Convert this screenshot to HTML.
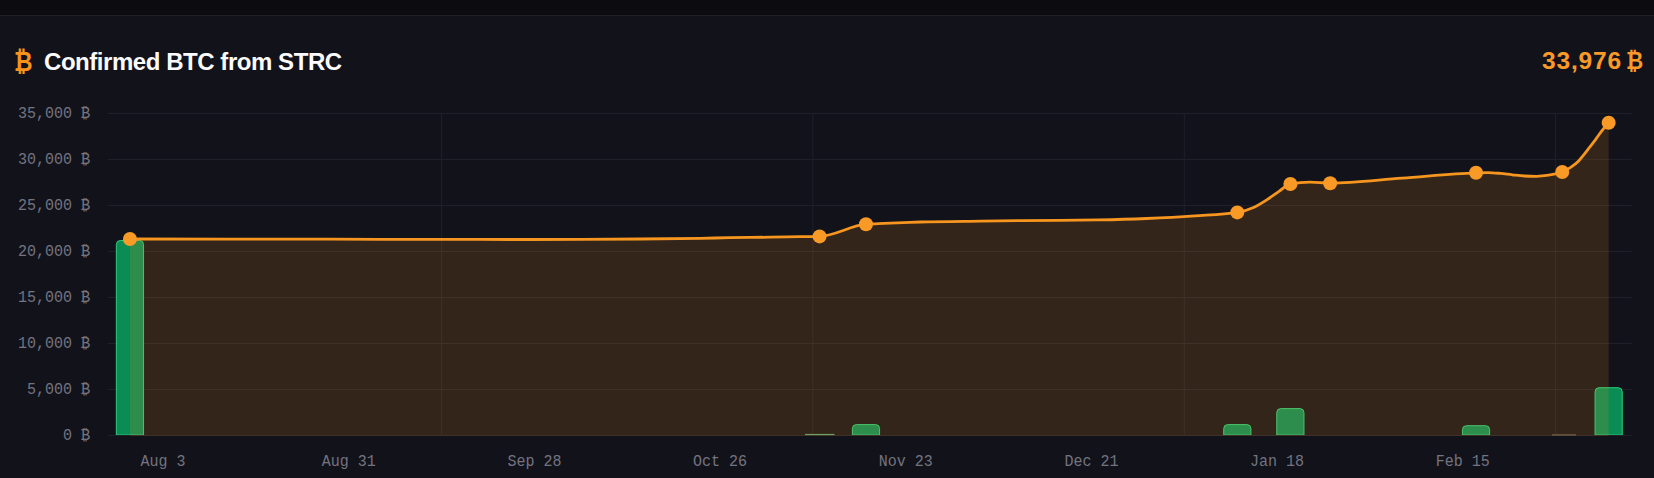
<!DOCTYPE html>
<html><head><meta charset="utf-8"><style>
html,body{margin:0;padding:0;width:1654px;height:478px;overflow:hidden;background:#0b0b10;}
.card{position:absolute;left:0;top:15px;width:1654px;height:470px;background:#12121b;border-top:1px solid #212029;}
.ax{font-family:"Liberation Mono",monospace;font-size:15px;fill:#74747f;}
.title{position:absolute;left:44px;top:47.5px;font-family:"Liberation Sans",sans-serif;font-weight:bold;font-size:24px;line-height:28px;letter-spacing:-0.45px;color:#fbfbfd;white-space:nowrap;}
.icon{position:absolute;left:14px;top:45.6px;font-family:"Liberation Sans",sans-serif;font-weight:bold;font-size:27px;line-height:32px;color:#f7931a;transform:scaleX(0.84);transform-origin:0 0;}
.total{position:absolute;left:1542px;top:47px;font-family:"Liberation Sans",sans-serif;font-weight:bold;font-size:24.5px;line-height:28px;color:#f99a28;white-space:nowrap;letter-spacing:0.85px;}
.tb{position:absolute;left:1626px;top:47px;font-family:"Liberation Sans",sans-serif;font-weight:bold;font-size:24.5px;line-height:28px;color:#f99a28;transform:scaleX(0.86);transform-origin:0 0;}
</style></head><body>
<div class="card"></div>
<div class="icon">₿</div>
<div class="title">Confirmed BTC from STRC</div>
<div class="total">33,976</div><div class="tb">₿</div>
<svg width="1654" height="478" viewBox="0 0 1654 478" style="position:absolute;left:0;top:0">
<line x1="108" x2="1631.5" y1="113.5" y2="113.5" stroke="#20202b" stroke-width="1"/>
<line x1="108" x2="1631.5" y1="159.5" y2="159.5" stroke="#20202b" stroke-width="1"/>
<line x1="108" x2="1631.5" y1="205.5" y2="205.5" stroke="#20202b" stroke-width="1"/>
<line x1="108" x2="1631.5" y1="251.5" y2="251.5" stroke="#20202b" stroke-width="1"/>
<line x1="108" x2="1631.5" y1="297.5" y2="297.5" stroke="#20202b" stroke-width="1"/>
<line x1="108" x2="1631.5" y1="343.5" y2="343.5" stroke="#20202b" stroke-width="1"/>
<line x1="108" x2="1631.5" y1="389.5" y2="389.5" stroke="#20202b" stroke-width="1"/>
<line x1="108" x2="1631.5" y1="435.5" y2="435.5" stroke="#20202b" stroke-width="1"/>
<line x1="441.6" x2="441.6" y1="113.5" y2="435.5" stroke="#20202b" stroke-width="1"/>
<line x1="812.9" x2="812.9" y1="113.5" y2="435.5" stroke="#20202b" stroke-width="1"/>
<line x1="1184.3" x2="1184.3" y1="113.5" y2="435.5" stroke="#20202b" stroke-width="1"/>
<line x1="1555.6" x2="1555.6" y1="113.5" y2="435.5" stroke="#20202b" stroke-width="1"/>
<path d="M116.34,435 L116.34,244.50 Q116.34,240.50 120.34,240.50 L139.54,240.50 Q143.54,240.50 143.54,244.50 L143.54,435 Z" fill="#0a8c55"/>
<path d="M116.34,435 L116.34,244.50 Q116.34,240.50 120.34,240.50 L139.54,240.50 Q143.54,240.50 143.54,244.50 L143.54,435" fill="none" stroke="#2dcd78" stroke-width="1"/>
<line x1="116.34" x2="143.54" y1="434.5" y2="434.5" stroke="#2dcd78" stroke-opacity="0.45" stroke-width="1"/>
<rect x="805" y="433.9" width="29.5" height="1.2" fill="#58a070"/>
<path d="M852.39,435 L852.39,428.60 Q852.39,424.60 856.39,424.60 L875.59,424.60 Q879.59,424.60 879.59,428.60 L879.59,435 Z" fill="#0a8c55"/>
<path d="M852.39,435 L852.39,428.60 Q852.39,424.60 856.39,424.60 L875.59,424.60 Q879.59,424.60 879.59,428.60 L879.59,435" fill="none" stroke="#2dcd78" stroke-width="1"/>
<line x1="852.39" x2="879.59" y1="434.5" y2="434.5" stroke="#2dcd78" stroke-opacity="0.45" stroke-width="1"/>
<path d="M1223.72,435 L1223.72,428.60 Q1223.72,424.60 1227.72,424.60 L1246.92,424.60 Q1250.92,424.60 1250.92,428.60 L1250.92,435 Z" fill="#0a8c55"/>
<path d="M1223.72,435 L1223.72,428.60 Q1223.72,424.60 1227.72,424.60 L1246.92,424.60 Q1250.92,424.60 1250.92,428.60 L1250.92,435" fill="none" stroke="#2dcd78" stroke-width="1"/>
<line x1="1223.72" x2="1250.92" y1="434.5" y2="434.5" stroke="#2dcd78" stroke-opacity="0.45" stroke-width="1"/>
<path d="M1276.77,435 L1276.77,412.60 Q1276.77,408.60 1280.77,408.60 L1299.97,408.60 Q1303.97,408.60 1303.97,412.60 L1303.97,435 Z" fill="#0a8c55"/>
<path d="M1276.77,435 L1276.77,412.60 Q1276.77,408.60 1280.77,408.60 L1299.97,408.60 Q1303.97,408.60 1303.97,412.60 L1303.97,435" fill="none" stroke="#2dcd78" stroke-width="1"/>
<line x1="1276.77" x2="1303.97" y1="434.5" y2="434.5" stroke="#2dcd78" stroke-opacity="0.45" stroke-width="1"/>
<path d="M1462.44,435 L1462.44,429.70 Q1462.44,425.70 1466.44,425.70 L1485.64,425.70 Q1489.64,425.70 1489.64,429.70 L1489.64,435 Z" fill="#0a8c55"/>
<path d="M1462.44,435 L1462.44,429.70 Q1462.44,425.70 1466.44,425.70 L1485.64,425.70 Q1489.64,425.70 1489.64,429.70 L1489.64,435" fill="none" stroke="#2dcd78" stroke-width="1"/>
<line x1="1462.44" x2="1489.64" y1="434.5" y2="434.5" stroke="#2dcd78" stroke-opacity="0.45" stroke-width="1"/>
<rect x="1552" y="434.4" width="24" height="1" fill="#6b6a5c"/>
<path d="M1595.06,435 L1595.06,391.70 Q1595.06,387.70 1599.06,387.70 L1618.26,387.70 Q1622.26,387.70 1622.26,391.70 L1622.26,435 Z" fill="#0a8c55"/>
<path d="M1595.06,435 L1595.06,391.70 Q1595.06,387.70 1599.06,387.70 L1618.26,387.70 Q1622.26,387.70 1622.26,391.70 L1622.26,435" fill="none" stroke="#2dcd78" stroke-width="1"/>
<line x1="1595.06" x2="1622.26" y1="434.5" y2="434.5" stroke="#2dcd78" stroke-opacity="0.45" stroke-width="1"/>
<path d="M129.94,239.00 C196.63,239.04 263.31,239.09 330.00,239.20 C363.33,239.26 396.67,239.35 430.00,239.40 C463.33,239.45 496.67,239.50 530.00,239.50 C566.67,239.50 603.33,239.33 640.00,239.00 C660.00,238.82 680.00,238.64 700.00,238.30 C710.00,238.13 720.00,237.87 730.00,237.70 C743.33,237.48 756.67,237.40 770.00,237.20 C780.00,237.05 790.00,236.86 800.00,236.70 C806.52,236.60 813.05,236.60 819.57,236.40 C835.04,235.93 850.51,225.57 865.99,224.20 C871.99,223.67 878.00,223.65 884.00,223.40 C896.17,222.88 908.33,222.36 920.50,222.00 C940.67,221.40 960.83,221.36 981.00,221.10 C1007.17,220.76 1033.33,220.57 1059.50,220.30 C1072.47,220.17 1085.43,220.14 1098.40,219.90 C1114.50,219.60 1130.60,219.17 1146.70,218.50 C1162.80,217.83 1178.90,217.01 1195.00,215.90 C1209.11,214.92 1223.21,214.73 1237.32,212.40 C1242.71,211.51 1248.11,209.94 1253.50,207.50 C1258.23,205.36 1262.97,202.27 1267.70,199.20 C1271.47,196.76 1275.23,193.83 1279.00,191.30 C1282.79,188.76 1286.58,184.70 1290.37,184.00 C1296.91,182.80 1303.46,182.20 1310.00,182.20 C1316.72,182.20 1323.44,183.20 1330.16,183.20 C1354.10,183.20 1378.05,179.91 1402.00,178.20 C1426.68,176.44 1451.36,173.40 1476.04,172.80 C1480.06,172.70 1484.08,172.60 1488.10,172.60 C1492.13,172.60 1496.17,173.03 1500.20,173.40 C1504.23,173.77 1508.27,174.37 1512.30,174.80 C1516.33,175.23 1520.37,175.80 1524.40,176.00 C1528.43,176.20 1532.47,176.30 1536.50,176.30 C1540.53,176.30 1544.57,175.83 1548.60,175.20 C1550.40,174.92 1552.20,174.59 1554.00,174.20 C1556.75,173.60 1559.49,173.12 1562.24,172.00 C1565.03,170.86 1567.81,169.26 1570.60,167.40 C1573.10,165.73 1575.60,164.17 1578.10,161.60 C1579.77,159.88 1581.43,157.66 1583.10,155.60 C1585.20,153.00 1587.30,150.22 1589.40,147.50 C1591.50,144.78 1593.60,142.12 1595.70,139.30 C1597.80,136.48 1599.90,133.29 1602.00,130.60 C1604.22,127.76 1606.44,125.28 1608.66,122.80 L1608.66,436 L129.94,436 Z" fill="#f7931a" fill-opacity="0.15"/>
<path d="M129.94,239.00 C196.63,239.04 263.31,239.09 330.00,239.20 C363.33,239.26 396.67,239.35 430.00,239.40 C463.33,239.45 496.67,239.50 530.00,239.50 C566.67,239.50 603.33,239.33 640.00,239.00 C660.00,238.82 680.00,238.64 700.00,238.30 C710.00,238.13 720.00,237.87 730.00,237.70 C743.33,237.48 756.67,237.40 770.00,237.20 C780.00,237.05 790.00,236.86 800.00,236.70 C806.52,236.60 813.05,236.60 819.57,236.40 C835.04,235.93 850.51,225.57 865.99,224.20 C871.99,223.67 878.00,223.65 884.00,223.40 C896.17,222.88 908.33,222.36 920.50,222.00 C940.67,221.40 960.83,221.36 981.00,221.10 C1007.17,220.76 1033.33,220.57 1059.50,220.30 C1072.47,220.17 1085.43,220.14 1098.40,219.90 C1114.50,219.60 1130.60,219.17 1146.70,218.50 C1162.80,217.83 1178.90,217.01 1195.00,215.90 C1209.11,214.92 1223.21,214.73 1237.32,212.40 C1242.71,211.51 1248.11,209.94 1253.50,207.50 C1258.23,205.36 1262.97,202.27 1267.70,199.20 C1271.47,196.76 1275.23,193.83 1279.00,191.30 C1282.79,188.76 1286.58,184.70 1290.37,184.00 C1296.91,182.80 1303.46,182.20 1310.00,182.20 C1316.72,182.20 1323.44,183.20 1330.16,183.20 C1354.10,183.20 1378.05,179.91 1402.00,178.20 C1426.68,176.44 1451.36,173.40 1476.04,172.80 C1480.06,172.70 1484.08,172.60 1488.10,172.60 C1492.13,172.60 1496.17,173.03 1500.20,173.40 C1504.23,173.77 1508.27,174.37 1512.30,174.80 C1516.33,175.23 1520.37,175.80 1524.40,176.00 C1528.43,176.20 1532.47,176.30 1536.50,176.30 C1540.53,176.30 1544.57,175.83 1548.60,175.20 C1550.40,174.92 1552.20,174.59 1554.00,174.20 C1556.75,173.60 1559.49,173.12 1562.24,172.00 C1565.03,170.86 1567.81,169.26 1570.60,167.40 C1573.10,165.73 1575.60,164.17 1578.10,161.60 C1579.77,159.88 1581.43,157.66 1583.10,155.60 C1585.20,153.00 1587.30,150.22 1589.40,147.50 C1591.50,144.78 1593.60,142.12 1595.70,139.30 C1597.80,136.48 1599.90,133.29 1602.00,130.60 C1604.22,127.76 1606.44,125.28 1608.66,122.80" fill="none" stroke="#f7961f" stroke-width="2.8" stroke-linejoin="round" stroke-linecap="round"/>
<circle cx="129.94" cy="239.00" r="7" fill="#f89a25"/>
<circle cx="819.57" cy="236.40" r="7" fill="#f89a25"/>
<circle cx="865.99" cy="224.20" r="7" fill="#f89a25"/>
<circle cx="1237.32" cy="212.40" r="7" fill="#f89a25"/>
<circle cx="1290.37" cy="184.00" r="7" fill="#f89a25"/>
<circle cx="1330.16" cy="183.20" r="7" fill="#f89a25"/>
<circle cx="1476.04" cy="172.80" r="7" fill="#f89a25"/>
<circle cx="1562.24" cy="172.00" r="7" fill="#f89a25"/>
<circle cx="1608.66" cy="122.80" r="7" fill="#f89a25"/>
<text transform="translate(90,118.3) scale(1,1.08)" text-anchor="end" class="ax">35,000 ₿</text>
<text transform="translate(90,164.3) scale(1,1.08)" text-anchor="end" class="ax">30,000 ₿</text>
<text transform="translate(90,210.3) scale(1,1.08)" text-anchor="end" class="ax">25,000 ₿</text>
<text transform="translate(90,256.3) scale(1,1.08)" text-anchor="end" class="ax">20,000 ₿</text>
<text transform="translate(90,302.3) scale(1,1.08)" text-anchor="end" class="ax">15,000 ₿</text>
<text transform="translate(90,348.3) scale(1,1.08)" text-anchor="end" class="ax">10,000 ₿</text>
<text transform="translate(90,394.3) scale(1,1.08)" text-anchor="end" class="ax">5,000 ₿</text>
<text transform="translate(90,440.3) scale(1,1.08)" text-anchor="end" class="ax">0 ₿</text>
<text transform="translate(163.1,465.8) scale(1,1.08)" text-anchor="middle" class="ax">Aug 3</text>
<text transform="translate(348.8,465.8) scale(1,1.08)" text-anchor="middle" class="ax">Aug 31</text>
<text transform="translate(534.4,465.8) scale(1,1.08)" text-anchor="middle" class="ax">Sep 28</text>
<text transform="translate(720.1,465.8) scale(1,1.08)" text-anchor="middle" class="ax">Oct 26</text>
<text transform="translate(905.8,465.8) scale(1,1.08)" text-anchor="middle" class="ax">Nov 23</text>
<text transform="translate(1091.4,465.8) scale(1,1.08)" text-anchor="middle" class="ax">Dec 21</text>
<text transform="translate(1277.1,465.8) scale(1,1.08)" text-anchor="middle" class="ax">Jan 18</text>
<text transform="translate(1462.8,465.8) scale(1,1.08)" text-anchor="middle" class="ax">Feb 15</text>
</svg>
</body></html>
